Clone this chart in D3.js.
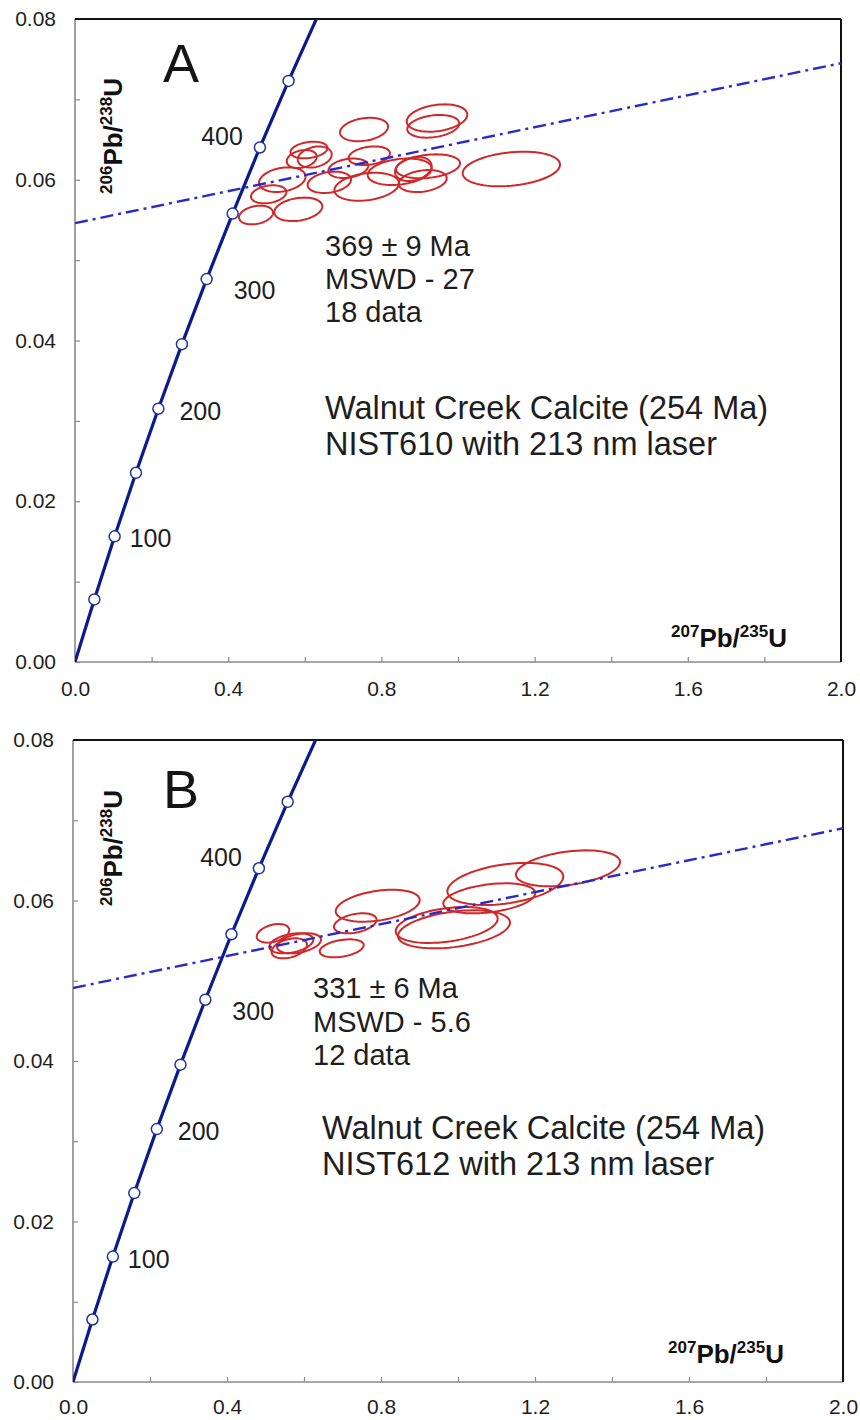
<!DOCTYPE html>
<html>
<head>
<meta charset="utf-8">
<script src="https://cdn.jsdelivr.net/npm/d3@7"></script>
<style>
  html, body { margin: 0; padding: 0; background: #fff; }
  svg { display: block; font-family: "Liberation Sans", Arial, sans-serif; }
</style>
</head>
<body>
<svg id="chart" width="860" height="1420"></svg>
<script>
// ---- Concordia reference points (ages in Ma) ----
const concordiaAge = [0, 50, 100, 150, 200, 250, 300, 350, 400, 450, 500];
const concordiaPb207U235 = [0, 0.050475, 0.10350, 0.159197, 0.217705, 0.279175, 0.343745, 0.411571, 0.482815, 0.557644, 0.63628];
const concordiaPb206U238 = [0, 0.0077864, 0.015633, 0.023542, 0.031511, 0.039543, 0.047637, 0.055795, 0.064016, 0.072300, 0.080650];
const markerAges = [50, 100, 150, 200, 250, 300, 350, 400, 450];
const labelledAges = [100, 200, 300, 400];

// ---- Axis ticks ----
const xTickValues = [0, 0.2, 0.4, 0.6, 0.8, 1.0, 1.2, 1.4, 1.6, 1.8, 2.0];
const xTickLabels = ["0.0", "", "0.4", "", "0.8", "", "1.2", "", "1.6", "", "2.0"];
const yTickValues = [0, 0.01, 0.02, 0.03, 0.04, 0.05, 0.06, 0.07, 0.08];
const yTickLabels = ["0.00", "", "0.02", "", "0.04", "", "0.06", "", "0.08"];

// ---- Panel A: spot analyses [207Pb/235U, 206Pb/238U, half-width x, half-width y] ----
const spotsA = [
  [0.4726, 0.05561, 0.0444, 0.00116],
  [0.5830, 0.05632, 0.0627, 0.00146],
  [0.5057, 0.05819, 0.0462, 0.00112],
  [0.5413, 0.06001, 0.0608, 0.00153],
  [0.6110, 0.06370, 0.0483, 0.00103],
  [0.5919, 0.06258, 0.0392, 0.00112],
  [0.6259, 0.06283, 0.0444, 0.00131],
  [0.6640, 0.05968, 0.0567, 0.00133],
  [0.7136, 0.06143, 0.0522, 0.00121],
  [0.7616, 0.05913, 0.0843, 0.00174],
  [0.7684, 0.06299, 0.0540, 0.00116],
  [0.8478, 0.06100, 0.0836, 0.00165],
  [0.8833, 0.06134, 0.0478, 0.00149],
  [0.9217, 0.06167, 0.0836, 0.00149],
  [0.9078, 0.05984, 0.0627, 0.00137],
  [1.1392, 0.06134, 0.1272, 0.00215],
  [0.7546, 0.06625, 0.0627, 0.00146],
  [0.9354, 0.06665, 0.0679, 0.00141],
  [0.9452, 0.06768, 0.0791, 0.00170]
];
const discordiaA = [[0, 0.0546], [2.0, 0.0745]];
const resultA = ["369 \u00B1 9 Ma", "MSWD - 27", "18 data"];
const sampleA = ["Walnut Creek Calcite (254 Ma)", "NIST610 with 213 nm laser"];

// ---- Panel B: spot analyses ----
const spotsB = [
  [0.5195, 0.05591, 0.0423, 0.00116],
  [0.5670, 0.05467, 0.0571, 0.00125],
  [0.5618, 0.05404, 0.0460, 0.00125],
  [0.5870, 0.05467, 0.0571, 0.00125],
  [0.6979, 0.05404, 0.0571, 0.00112],
  [0.7332, 0.05716, 0.0553, 0.00125],
  [0.7914, 0.05935, 0.1091, 0.00199],
  [0.9706, 0.05695, 0.1325, 0.00224],
  [0.9896, 0.05641, 0.1455, 0.00237],
  [1.0813, 0.06027, 0.1195, 0.00187],
  [1.1229, 0.06206, 0.1506, 0.00262],
  [1.2857, 0.06401, 0.1351, 0.00224]
];
const discordiaB = [[0, 0.0491], [2.0, 0.0690]];
const resultB = ["331 \u00B1 6 Ma", "MSWD - 5.6", "12 data"];
const sampleB = ["Walnut Creek Calcite (254 Ma)", "NIST612 with 213 nm laser"];

// ---- Layout of the two stacked panels ----
const panels = [
  { id: "A", spots: spotsA, discordia: discordiaA, result: resultA, sample: sampleA, rho: 0.25,
    left: 75, right: 841, top: 19, bottom: 662,
    resultPos: [325, 256, 33], samplePos: [325, 419, 36], letterBase: 82,
    yLabelCenter: 136, xLabelX: 671, xLabelBase: 647, xTickPad: 19 },
  { id: "B", spots: spotsB, discordia: discordiaB, result: resultB, sample: sampleB, rho: 0.35,
    left: 73, right: 843, top: 740, bottom: 1382,
    resultPos: [313, 998, 33.5], samplePos: [322, 1139, 36], letterBase: 808,
    yLabelCenter: 848, xLabelX: 668, xLabelBase: 1363, xTickPad: 17 }
];

// label placement relative to each concordia marker: [dx, dy, anchor]
const ageLabelOffset = { 100: [15, 11, "start"], 200: [21, 11, "start"], 300: [27, 20, "start"], 400: [-17, -2, "end"] };

const svg = d3.select("#chart");
svg.append("rect").attr("width", 860).attr("height", 1420).attr("fill", "#fff");

const concordiaColor = "#0b1a8e";
const discordiaColor = "#2a2ac8";
const spotColor = "#d02828";
const textColor = "#1e1e1e";

panels.forEach((p) => {
  const x = d3.scaleLinear().domain([0, 2.0]).range([p.left, p.right]);
  const y = d3.scaleLinear().domain([0, 0.08]).range([p.bottom, p.top]);
  const g = svg.append("g").attr("class", "panel-" + p.id);

  const clipId = "clip-" + p.id;
  svg.append("defs").append("clipPath").attr("id", clipId)
    .append("rect").attr("x", p.left).attr("y", p.top)
    .attr("width", p.right - p.left).attr("height", p.bottom - p.top);

  // axes with inward ticks
  const xAxis = d3.axisBottom(x).tickValues(xTickValues).tickSize(-5).tickPadding(p.xTickPad)
    .tickFormat((d, i) => xTickLabels[i]);
  const gx = g.append("g").attr("transform", `translate(0,${p.bottom})`).call(xAxis);
  const yAxis = d3.axisLeft(y).tickValues(yTickValues).tickSize(-5).tickPadding(19)
    .tickFormat((d, i) => yTickLabels[i]);
  const gy = g.append("g").attr("transform", `translate(${p.left},0)`).call(yAxis);
  [gx, gy].forEach(a => {
    a.attr("font-size", 21).attr("font-family", "'Liberation Sans', Arial, sans-serif");
    a.select(".domain").remove();
    a.selectAll(".tick line").attr("stroke", "#8a8a8a").attr("stroke-width", 1.2);
    a.selectAll(".tick text").attr("fill", textColor);
  });

  // frame: grey left/bottom, black top/right
  g.append("line").attr("x1", p.left).attr("x2", p.left).attr("y1", p.top).attr("y2", p.bottom)
    .attr("stroke", "#8a8a8a").attr("stroke-width", 1.6);
  g.append("line").attr("x1", p.left).attr("x2", p.right).attr("y1", p.bottom).attr("y2", p.bottom)
    .attr("stroke", "#8a8a8a").attr("stroke-width", 1.6);
  g.append("line").attr("x1", p.left).attr("x2", p.right).attr("y1", p.top).attr("y2", p.top)
    .attr("stroke", "#111").attr("stroke-width", 2);
  g.append("line").attr("x1", p.right).attr("x2", p.right).attr("y1", p.top).attr("y2", p.bottom)
    .attr("stroke", "#111").attr("stroke-width", 2);

  const plot = g.append("g").attr("clip-path", `url(#${clipId})`);

  // error ellipses
  const ellipseLine = d3.line().x(d => x(d[0])).y(d => y(d[1])).curve(d3.curveLinearClosed);
  const steps = d3.range(0, 72).map(k => k / 72 * 2 * Math.PI);
  const s = Math.sqrt(1 - p.rho * p.rho);
  plot.selectAll("path.spot").data(p.spots).join("path").attr("class", "spot")
    .attr("d", d => ellipseLine(steps.map(t => [
      d[0] + d[2] * Math.cos(t),
      d[1] + d[3] * (p.rho * Math.cos(t) + s * Math.sin(t))
    ])))
    .attr("fill", "none").attr("stroke", spotColor).attr("stroke-width", 2);

  // regression (discordia) line
  plot.append("path")
    .attr("d", d3.line().x(d => x(d[0])).y(d => y(d[1]))(p.discordia))
    .attr("fill", "none").attr("stroke", discordiaColor).attr("stroke-width", 2.4)
    .attr("stroke-dasharray", "13,5,3,5");

  // concordia curve
  const conc = concordiaAge.map((a, i) => [concordiaPb207U235[i], concordiaPb206U238[i], a]);
  plot.append("path")
    .attr("d", d3.line().x(d => x(d[0])).y(d => y(d[1])).curve(d3.curveMonotoneX)(conc))
    .attr("fill", "none").attr("stroke", concordiaColor).attr("stroke-width", 3.2);

  const markers = conc.filter(d => markerAges.includes(d[2]));
  plot.selectAll("circle.age").data(markers).join("circle").attr("class", "age")
    .attr("cx", d => x(d[0])).attr("cy", d => y(d[1])).attr("r", 5.5)
    .attr("fill", "#fff").attr("stroke", "#23349c").attr("stroke-width", 1.5);

  g.selectAll("text.age").data(conc.filter(d => labelledAges.includes(d[2]))).join("text")
    .attr("class", "age")
    .attr("x", d => x(d[0]) + ageLabelOffset[d[2]][0])
    .attr("y", d => y(d[1]) + ageLabelOffset[d[2]][1])
    .attr("text-anchor", d => ageLabelOffset[d[2]][2])
    .attr("font-size", 25).attr("fill", textColor)
    .text(d => d[2]);

  // panel letter
  g.append("text").attr("x", 163).attr("y", p.letterBase).attr("font-size", 54)
    .attr("fill", "#151515").text(p.id);

  // age result and sample description
  p.result.forEach((t, i) => {
    g.append("text").attr("x", p.resultPos[0]).attr("y", p.resultPos[1] + i * p.resultPos[2])
      .attr("font-size", 29).attr("fill", textColor).text(t);
  });
  p.sample.forEach((t, i) => {
    g.append("text").attr("x", p.samplePos[0]).attr("y", p.samplePos[1] + i * p.samplePos[2])
      .attr("font-size", 32.5).attr("fill", textColor).text(t);
  });

  // axis titles with isotope superscripts
  function isotopeLabel(sel, a, b) {
    sel.attr("font-weight", "bold").attr("fill", "#111").attr("font-size", 26);
    sel.append("tspan").attr("font-size", 17).attr("dy", -10).text(a);
    sel.append("tspan").attr("dy", 10).text("Pb/");
    sel.append("tspan").attr("font-size", 17).attr("dy", -10).text(b);
    sel.append("tspan").attr("dy", 10).text("U");
  }
  const yl = g.append("text")
    .attr("transform", `translate(122,${p.yLabelCenter}) rotate(-90)`)
    .attr("text-anchor", "middle");
  isotopeLabel(yl, "206", "238");
  const xl = g.append("text").attr("x", p.xLabelX).attr("y", p.xLabelBase);
  isotopeLabel(xl, "207", "235");
});
</script>
</body>
</html>
